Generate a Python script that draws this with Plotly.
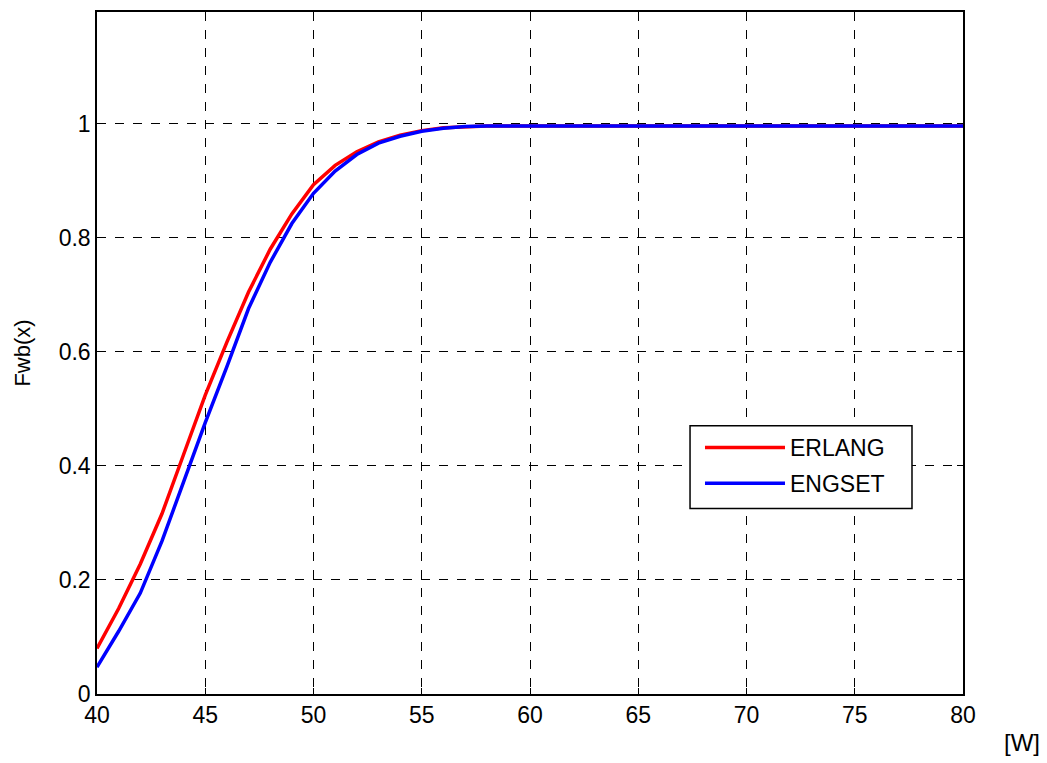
import plotly.graph_objects as go

x_vals = list(range(40, 81))
erlang_head = [0.080, 0.150, 0.228, 0.316, 0.420, 0.524, 0.617, 0.705, 0.780, 0.842, 0.893,
               0.927, 0.951, 0.968, 0.980, 0.988, 0.993, 0.995]
engset_head = [0.047, 0.110, 0.177, 0.268, 0.372, 0.476, 0.574, 0.676, 0.757, 0.825, 0.878,
               0.917, 0.946, 0.966, 0.978, 0.987, 0.992, 0.995]
erlang = erlang_head + [0.996] * (len(x_vals) - len(erlang_head))
engset = engset_head + [0.996] * (len(x_vals) - len(engset_head))

x_ticks = [40, 45, 50, 55, 60, 65, 70, 75, 80]
y_ticks = [0, 0.2, 0.4, 0.6, 0.8, 1]
y_tick_text = ["0", "0.2", "0.4", "0.6", "0.8", "1"]

FONT = "Liberation Sans, Arial, sans-serif"

fig = go.Figure()
fig.add_trace(go.Scatter(x=x_vals, y=erlang, mode="lines", name="ERLANG",
                         legendgroup="a",
                         line=dict(color="#ff0000", width=3.5)))
fig.add_trace(go.Scatter(x=x_vals, y=engset, mode="lines", name="ENGSET",
                         legendgroup="b",
                         line=dict(color="#0000ff", width=3.5)))

axis_common = dict(showline=True, linecolor="black", linewidth=1.5, mirror="ticks",
                   ticks="inside", ticklen=6, tickcolor="black",
                   showgrid=True, gridcolor="black", griddash="dash", gridwidth=1,
                   zeroline=False, tickfont=dict(family=FONT, size=23, color="black"))

fig.update_layout(
    width=1039, height=755,
    paper_bgcolor="white", plot_bgcolor="white",
    margin=dict(l=89, r=84, t=2, b=69),
    xaxis=dict(range=[40, 80], tickvals=x_ticks, **axis_common),
    yaxis=dict(range=[0, 1.196], tickvals=y_ticks, ticktext=y_tick_text,
               title=dict(text="Fwb(x)", font=dict(family=FONT, size=22, color="black"), standoff=22),
               **axis_common),
    legend=dict(x=0.6963, y=0.393, xanchor="left", yanchor="top",
                bgcolor="rgba(0,0,0,0)", borderwidth=0,
                font=dict(family=FONT, size=23, color="black"),
                itemwidth=80, tracegroupgap=3),
    showlegend=True,
)
# legend frame
fig.add_shape(type="rect", xref="paper", yref="paper", x0=0.6848, x1=0.9411, y0=0.2719, y1=0.3933,
              fillcolor="white", line=dict(color="black", width=1.5), layer="above")
fig.add_annotation(text="[W]", xref="paper", yref="paper", x=1.068, y=-0.094,
                   xanchor="center", yanchor="bottom", showarrow=False,
                   font=dict(family=FONT, size=24, color="black"))

fig.write_html("out.html")
